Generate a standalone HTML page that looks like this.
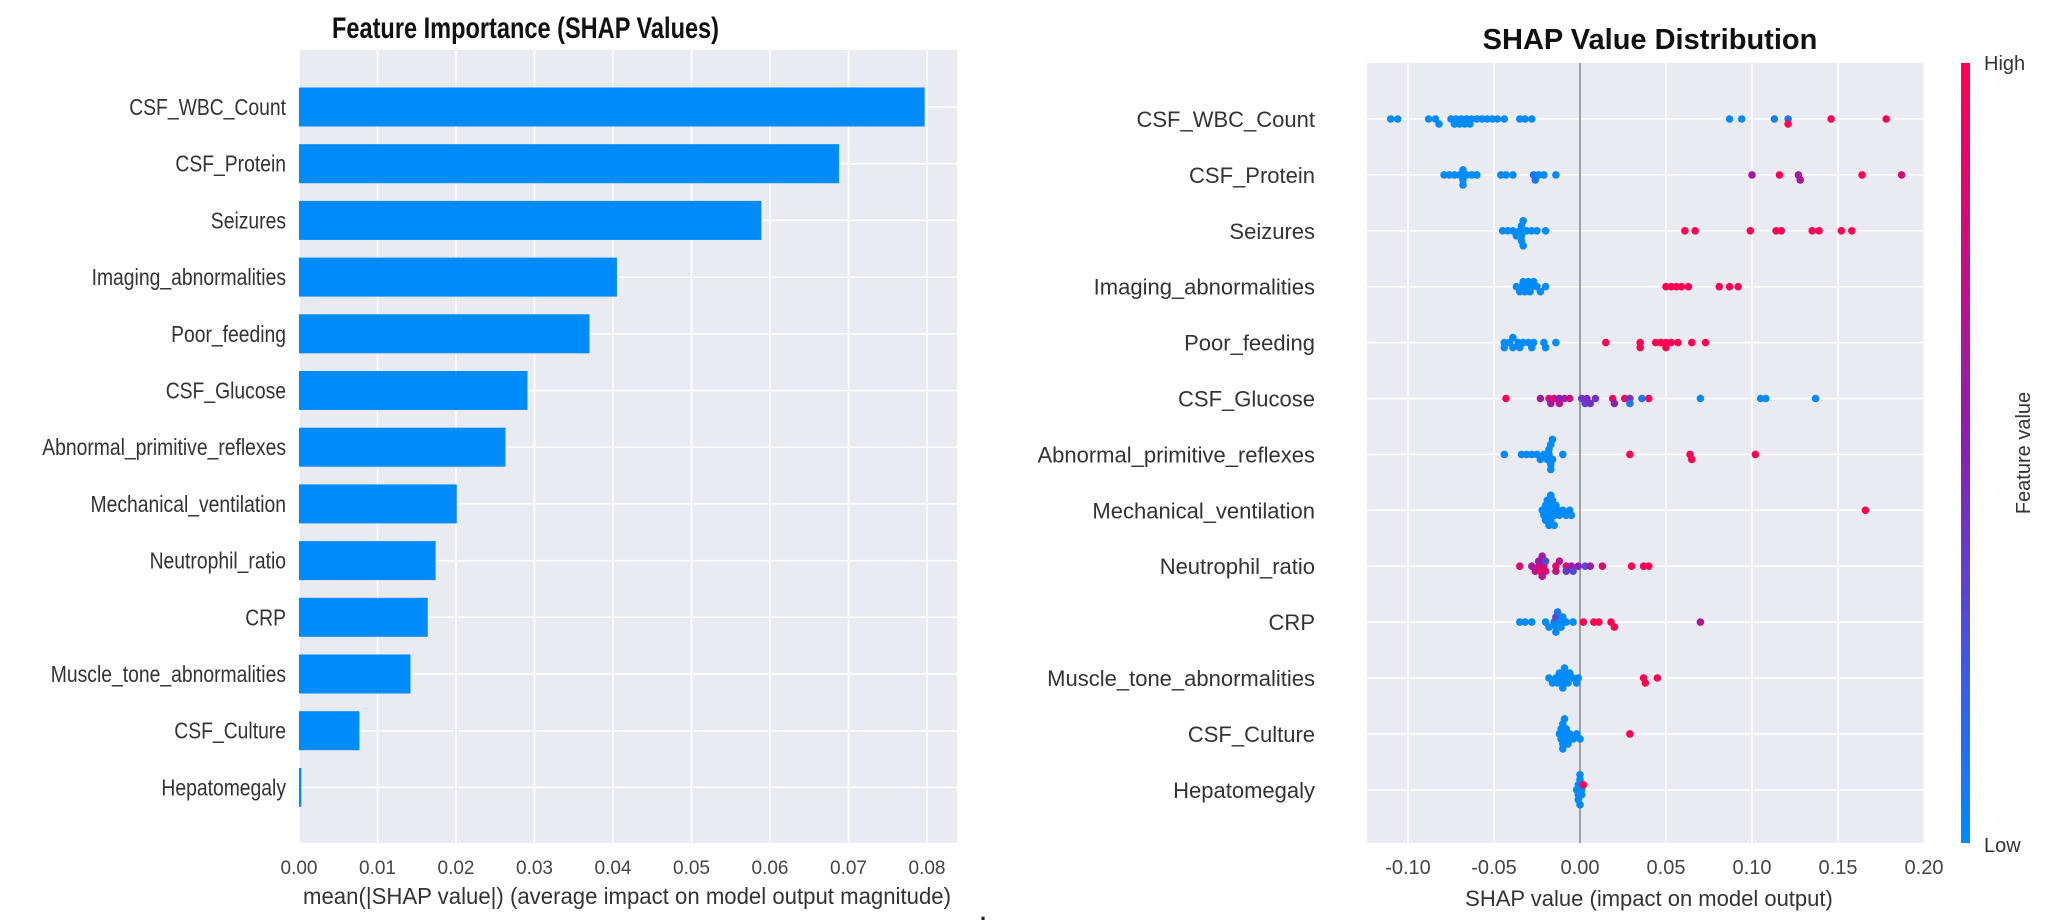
<!DOCTYPE html>
<html><head><meta charset="utf-8"><style>
html,body{margin:0;padding:0;background:#fff;}
svg{display:block;font-family:"Liberation Sans",Arial,sans-serif;}
</style></head><body>
<svg id="chart" width="2058" height="923" viewBox="0 0 2058 923">
<defs>
<linearGradient id="cbar" x1="0" y1="1" x2="0" y2="0">
<stop offset="0" stop-color="#008bfb"/><stop offset="0.5" stop-color="#8a1fb8"/><stop offset="1" stop-color="#ff0052"/>
</linearGradient>
</defs>
<g id="left"></g>
<g id="right"></g>
<rect x="1961" y="63" width="9" height="780" fill="url(#cbar)"/>
<text x="1984" y="70" font-size="20" fill="#333">High</text>
<text x="1984" y="852" font-size="20" fill="#333">Low</text>
<text x="2030" y="453" font-size="20" fill="#333" text-anchor="middle" transform="rotate(-90 2030 453)">Feature value</text>
<text x="980" y="920" font-size="22" font-weight="bold" fill="#222">.</text>
</svg>
<script>
const NS="http://www.w3.org/2000/svg";
const features=["CSF_WBC_Count","CSF_Protein","Seizures","Imaging_abnormalities","Poor_feeding","CSF_Glucose","Abnormal_primitive_reflexes","Mechanical_ventilation","Neutrophil_ratio","CRP","Muscle_tone_abnormalities","CSF_Culture","Hepatomegaly"];
const importance=[0.0797,0.0688,0.0589,0.0405,0.0370,0.0291,0.0263,0.0201,0.0174,0.0164,0.0142,0.0077,0.0003];
const leftTicks=[0,0.01,0.02,0.03,0.04,0.05,0.06,0.07,0.08];
const leftTickLabels=["0.00","0.01","0.02","0.03","0.04","0.05","0.06","0.07","0.08"];
const rightTicks=[-0.10,-0.05,0,0.05,0.10,0.15,0.20];
const rightTickLabels=["-0.10","-0.05","0.00","0.05","0.10","0.15","0.20"];
// SHAP values per feature and feature-value colour (0=low,1=high)
const shapVals=[
[-0.110,-0.106,-0.088,-0.084,-0.082,-0.075,-0.073,-0.072,-0.070,-0.069,-0.067,-0.066,-0.064,-0.063,-0.060,-0.057,-0.054,-0.051,-0.048,-0.044,-0.035,-0.032,-0.028,0.087,0.094,0.113,0.121,0.121,0.146,0.178],
[-0.079,-0.076,-0.073,-0.070,-0.068,-0.068,-0.068,-0.066,-0.063,-0.060,-0.046,-0.043,-0.039,-0.027,-0.026,-0.024,-0.021,-0.014,0.100,0.116,0.127,0.128,0.164,0.187],
[-0.045,-0.042,-0.039,-0.037,-0.035,-0.034,-0.034,-0.034,-0.033,-0.033,-0.031,-0.028,-0.025,-0.020,0.061,0.067,0.099,0.114,0.117,0.135,0.139,0.152,0.158],
[-0.037,-0.035,-0.034,-0.033,-0.032,-0.031,-0.030,-0.029,-0.028,-0.027,-0.025,-0.023,-0.020,0.050,0.053,0.056,0.059,0.063,0.081,0.087,0.092],
[-0.044,-0.044,-0.041,-0.039,-0.039,-0.036,-0.035,-0.033,-0.030,-0.028,-0.027,-0.021,-0.020,-0.014,0.015,0.035,0.035,0.044,0.047,0.050,0.050,0.053,0.057,0.065,0.073],
[-0.043,-0.023,-0.018,-0.017,-0.015,-0.012,-0.012,-0.009,-0.006,0.001,0.003,0.004,0.006,0.009,0.019,0.020,0.026,0.029,0.029,0.036,0.040,0.070,0.105,0.108,0.137],
[-0.044,-0.034,-0.031,-0.028,-0.025,-0.023,-0.021,-0.019,-0.018,-0.018,-0.017,-0.017,-0.017,-0.016,-0.016,-0.010,0.029,0.064,0.065,0.102],
[-0.022,-0.021,-0.020,-0.020,-0.019,-0.019,-0.018,-0.018,-0.017,-0.017,-0.017,-0.016,-0.016,-0.015,-0.015,-0.014,-0.013,-0.012,-0.010,-0.008,-0.006,-0.005,0.166],
[-0.035,-0.028,-0.026,-0.024,-0.024,-0.023,-0.022,-0.022,-0.021,-0.020,-0.020,-0.014,-0.014,-0.012,-0.008,-0.008,-0.005,-0.004,-0.001,0.003,0.006,0.013,0.030,0.037,0.040],
[-0.035,-0.032,-0.028,-0.020,-0.018,-0.015,-0.014,-0.014,-0.014,-0.013,-0.012,-0.011,-0.010,-0.008,-0.004,0.002,0.008,0.011,0.018,0.020,0.070],
[-0.018,-0.016,-0.014,-0.013,-0.012,-0.011,-0.010,-0.010,-0.009,-0.009,-0.008,-0.007,-0.006,-0.004,-0.002,-0.001,0.037,0.038,0.045],
[-0.012,-0.011,-0.011,-0.010,-0.010,-0.010,-0.009,-0.009,-0.008,-0.008,-0.007,-0.006,-0.004,-0.002,0.000,0.029],
[-0.002,-0.001,-0.001,-0.001,0.000,0.000,0.000,0.000,0.001,0.001,0.002]
];
const shapColors=[
[0,0,0,0,0,0,0,0,0,0,0,0,0,0,0,0,0,0,0,0,0,0,0,0,0,0.05,0.1,1,1,1],
[0,0,0,0,0,0,0,0,0,0,0,0,0,0.1,0.1,0,0,0,0.6,1,0.6,0.65,1,0.8],
[0,0,0,0,0,0,0,0,0,0,0,0,0,0,1,1,1,1,1,1,1,1,1],
[0,0,0,0,0,0,0,0,0,0,0,0,0,1,1,1,1,1,1,1,1],
[0,0,0,0,0,0,0,0,0,0,0,0,0,0,1,1,1,1,1,1,1,1,1,1,1],
[1,0.6,0.8,0.6,0.85,0.5,0.7,0.6,0.8,0.4,0.35,0.45,0.4,0.4,0.95,0.5,0.95,0.4,0.1,0.1,1,0,0,0,0],
[0,0,0,0,0,0,0,0,0,0,0,0,0,0,0,0,1,1,1,1],
[0,0,0,0,0,0,0,0,0,0,0,0,0,0,0,0,0,0,0,0,0,0,1],
[0.85,0.6,0.7,0.8,0.6,0.9,0.7,0.6,0.8,0.85,0.3,0.9,0.8,0.7,0.85,0.4,0.6,0.3,0.5,0.3,0.6,0.85,1,1,1],
[0,0,0,0,0,0.1,0,0.3,0,0.1,0,0,0,0,0,1,1,1,1,1,0.65],
[0,0,0,0,0,0,0,0,0,0,0,0,0,0,0,0,1,1,1],
[0,0,0,0,0,0,0,0,0,0,0,0,0,0,0,1],
[0,0,0,0,0,0,0,0,0,0,1]
];

function mk(tag,attrs,parent,text){const e=document.createElementNS(NS,tag);for(const k in attrs)e.setAttribute(k,attrs[k]);if(text!==undefined)e.textContent=text;parent.appendChild(e);return e;}
function lerp(a,b,t){return Math.round(a+(b-a)*t);}
function colorFor(c){const s=[[0,139,251],[138,31,184],[255,0,82]];let a,b,t;if(c<=0.5){a=s[0];b=s[1];t=c/0.5;}else{a=s[1];b=s[2];t=(c-0.5)/0.5;}return `rgb(${lerp(a[0],b[0],t)},${lerp(a[1],b[1],t)},${lerp(a[2],b[2],t)})`;}

// LEFT
const L=document.getElementById('left');
const lx0=300,lx1=957,ly0=50,ly1=843;
const lx=v=>299+v*7850;
const rowL=i=>107+56.7*i;
let r=mk('rect',{x:lx0,y:ly0,width:lx1-lx0,height:ly1-ly0,fill:'#eaeaf2'},L);

leftTicks.forEach((t,i)=>{
  const g=mk('line',{x1:lx(t),x2:lx(t),y1:ly0,y2:ly1,stroke:'#fff','stroke-width':1.5},L);
  
  const tl=mk('text',{x:lx(t),y:874,'font-size':19,'text-anchor':'middle',fill:'#444'},L,leftTickLabels[i]);
  
});
features.forEach((f,i)=>{
  const g=mk('line',{x1:lx0,x2:lx1,y1:rowL(i),y2:rowL(i),stroke:'#fff','stroke-width':1.5},L);
  
});
features.forEach((f,i)=>{
  const b=mk('rect',{x:lx(0),y:rowL(i)-19.5,width:Math.max(1.5,lx(importance[i])-lx(0)),height:39,fill:'#008bfb'},L);
  
  const t=mk('text',{x:286,y:rowL(i)+8,'font-size':23,'text-anchor':'end',fill:'#333'},L,f);
  
  t.setAttribute('textLength',(t.getComputedTextLength()*0.84).toFixed(1));t.setAttribute('lengthAdjust','spacingAndGlyphs');
});
let tt=mk('text',{x:332,y:38,'font-size':30,'font-weight':'bold',fill:'#111',textLength:387,lengthAdjust:'spacingAndGlyphs'},L,'Feature Importance (SHAP Values)');

let xl=mk('text',{x:303,y:904,'font-size':23,fill:'#333',textLength:648,lengthAdjust:'spacingAndGlyphs'},L,'mean(|SHAP value|) (average impact on model output magnitude)');


// RIGHT
const R=document.getElementById('right');
const rx0=1367,rx1=1925,ry0=63,ry1=843;
const rx=v=>1580+v*1720;
const rowR=i=>119+55.9*i;
r=mk('rect',{x:rx0,y:ry0,width:rx1-rx0,height:ry1-ry0,fill:'#eaeaf2'},R);

rightTicks.forEach((t,i)=>{
  if(t!==0){const g=mk('line',{x1:rx(t),x2:rx(t),y1:ry0,y2:ry1,stroke:'#fff','stroke-width':1.5},R);
  }
  const tl=mk('text',{x:rx(t),y:874,'font-size':20,'text-anchor':'middle',fill:'#444'},R,rightTickLabels[i]);
  
});
features.forEach((f,i)=>{
  const g=mk('line',{x1:rx0,x2:rx1,y1:rowR(i),y2:rowR(i),stroke:'#fff','stroke-width':1.5},R);
  
  const t=mk('text',{x:1315,y:rowR(i)+8,'font-size':22,'text-anchor':'end',fill:'#333'},R,f);
  
});
let zl=mk('line',{x1:rx(0),x2:rx(0),y1:ry0,y2:ry1,stroke:'#888','stroke-width':1.5},R);

const dotR=3.8, step=5, maxLvl=3;
shapVals.forEach((vals,i)=>{
  const pts=vals.map((v,k)=>({x:rx(v),c:shapColors[i][k]}));
  const placed=[];
  pts.forEach(p=>{
    let best=0,bestCnt=1e9;
    for(let n=0;n<=maxLvl*2;n++){
      const off=(n===0)?0:(n%2? Math.ceil(n/2):-Math.ceil(n/2))*step;
      const cnt=placed.filter(q=>Math.abs(q.x-p.x)<4.5&&Math.abs(q.off-off)<4).length;
      if(cnt===0){best=off;bestCnt=0;break;}
      if(cnt<bestCnt){bestCnt=cnt;best=off;}
    }
    p.off=best;placed.push(p);
  });
  placed.forEach(p=>{
    const d=mk('circle',{cx:p.x.toFixed(1),cy:(rowR(i)+p.off).toFixed(1),r:dotR,fill:colorFor(p.c)},R);
    
  });
});
let rt=mk('text',{x:1650,y:49,'font-size':29,'font-weight':'bold','text-anchor':'middle',fill:'#111'},R,'SHAP Value Distribution');

let rxl=mk('text',{x:1649,y:906,'font-size':22,'text-anchor':'middle',fill:'#333'},R,'SHAP value (impact on model output)');

</script>
</body></html>
